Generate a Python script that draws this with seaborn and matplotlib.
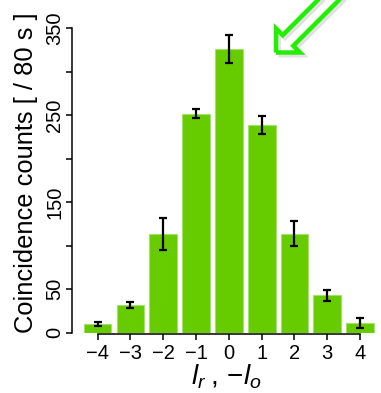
import matplotlib
matplotlib.use("Agg")
import matplotlib.pyplot as plt
import matplotlib.transforms as mtransforms
from matplotlib.patches import FancyArrow
import seaborn as sns
import pandas as pd

# ---- data ----
orbital = [-4, -3, -2, -1, 0, 1, 2, 3, 4]
counts = [10, 32, 114, 252, 326, 239, 114, 43, 11]
errors = [2, 3.8, 18.4, 5.2, 15.7, 10.3, 14.2, 6, 6]
ytick_values = [0, 50, 100, 150, 200, 250, 300, 350]
ytick_labels = ["0", "50", "", "150", "", "250", "", "350"]
xtick_labels = ["\u22124", "\u22123", "\u22122", "\u22121", "0", "1", "2", "3", "4"]
ylabel_text = "Coincidence counts [ / 80 s ]"
xlabel_text = r"$\mathit{l}_{r}\;,\,{-}\mathit{l}_{o}$"

sns.set_style("white")
plt.rcParams["font.family"] = ["Liberation Sans", "DejaVu Sans"]
plt.rcParams["mathtext.fontset"] = "custom"
plt.rcParams["mathtext.rm"] = "Liberation Sans"
plt.rcParams["mathtext.it"] = "Liberation Sans:italic"
plt.rcParams["axes.unicode_minus"] = True
plt.rcParams["xtick.labelsize"] = 14.5
plt.rcParams["ytick.labelsize"] = 14.5

W, H = 381, 393
fig = plt.figure(figsize=(W / 100, H / 100), dpi=100)
ax = fig.add_axes([72 / W, (H - 332.7) / H, (W - 72) / W, 332.7 / H])

df = pd.DataFrame({"l": orbital, "counts": counts})
sns.barplot(data=df, x="l", y="counts", native_scale=True, width=0.845,
            color="#66cc00", saturation=1, errorbar=None,
            edgecolor="#a6e06a", linewidth=0.8, ax=ax)
ax.errorbar(orbital, counts, yerr=errors, fmt="none", ecolor="black",
            elinewidth=1.6, capsize=3.2, capthick=1.6, zorder=5)

ax.set_xlim(-4.78, 4.637)
ax.set_ylim(0, 382.5)

for s in ["top", "right"]:
    ax.spines[s].set_visible(False)
ax.spines["left"].set_bounds(0, 350)
ax.spines["bottom"].set_bounds(-4, 4)
ax.spines["bottom"].set_position(("outward", 1))
for s in ["left", "bottom"]:
    ax.spines[s].set_color("black")
    ax.spines[s].set_linewidth(1.1)
ax.tick_params(axis="both", direction="out", length=4, width=1.1, color="black",
               left=True, bottom=True, labelcolor="black", labelsize=14.5)
ax.tick_params(axis="y", pad=1.5)
ax.tick_params(axis="x", pad=3)

ax.set_yticks(ytick_values, ytick_labels, fontsize=14.5, rotation=90, va="center")
ax.set_xticks(orbital, xtick_labels, fontsize=14.5)

ax.set_ylabel(ylabel_text, fontsize=18.4, color="black")
ax.yaxis.set_label_coords(-0.111, 0.482)
ax.set_xlabel(xlabel_text, fontsize=20, color="black", labelpad=0)

# ---- hollow green arrow pointing at the central bar ----
ident = mtransforms.IdentityTransform()
tip = (276.0, H - 52.5)
start = (420.0, H - (-91.5))
dx, dy = tip[0] - start[0], tip[1] - start[1]
shadow = FancyArrow(start[0] + 2.5, start[1] - 2.5, dx, dy, width=15, head_width=34,
                    head_length=17, length_includes_head=True, transform=ident,
                    facecolor="none", edgecolor="#888888", alpha=0.25, linewidth=3.5,
                    joinstyle="miter")
arrow = FancyArrow(start[0], start[1], dx, dy, width=15, head_width=34,
                   head_length=17, length_includes_head=True, transform=ident,
                   facecolor="none", edgecolor="#22ee00", linewidth=3.2,
                   joinstyle="miter")
fig.add_artist(shadow)
fig.add_artist(arrow)

fig.savefig("out.png", dpi=100)
